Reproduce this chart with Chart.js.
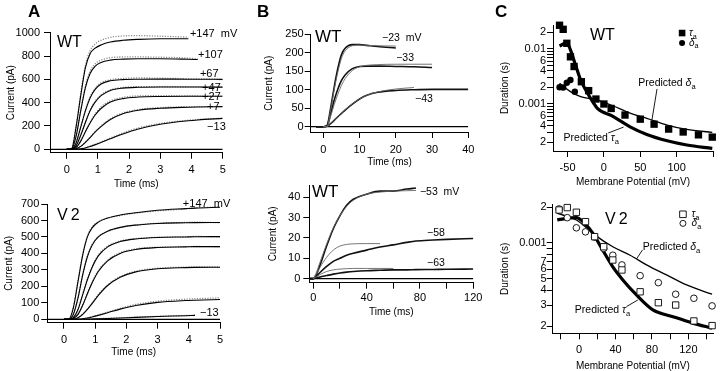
<!DOCTYPE html>
<html>
<head>
<meta charset="utf-8">
<script src="https://cdn.jsdelivr.net/npm/chart.js@4.4.1/dist/chart.umd.min.js"></script>
<style>
  html, body { margin: 0; padding: 0; background: #fff; }
  #wrap { position: relative; width: 720px; height: 371px; overflow: hidden; }
  #wrap canvas { position: absolute; left: 0; top: 0; }
</style>
</head>
<body>
<div id="wrap">
  <canvas id="aTop" width="720" height="371"></canvas>
  <canvas id="aBot" width="720" height="371"></canvas>
  <canvas id="bTop" width="720" height="371"></canvas>
  <canvas id="bBot" width="720" height="371"></canvas>
  <canvas id="cTop" width="720" height="371"></canvas>
  <canvas id="cBot" width="720" height="371"></canvas>
</div>
<script>
const FONT = "'Liberation Sans', Arial, Helvetica, sans-serif";
Chart.defaults.font.family = FONT;
Chart.defaults.color = '#000';
Chart.defaults.animation = false;
Chart.defaults.responsive = false;
Chart.defaults.events = [];

// ---- panel A : currents (pA) vs time (ms) ----
const tA = [-0.53, 0, 0.15, 0.3, 0.45, 0.6, 0.75, 0.9, 1.1, 1.4, 1.8, 2.3, 3, 3.9, 4.2, 5];
const zeroA = [-0.53, 5];

const wtFit147 = [null, 0, 0, 190, 460, 700, 820, 865, 895, 920, 935, 943, 948, 948, null, null];
const wtRaw147 = [null, 0, 5, 200, 480, 720, 845, 900, 935, 960, 972, 975, 970, 962, null, null];
const wtFit107 = [null, 0, 0, 110, 330, 530, 650, 710, 745, 765, 773, 776, 776, 772, 770, null];
const wtRaw107 = [null, 0, 3, 115, 340, 545, 670, 730, 765, 785, 792, 792, 790, 782, 775, null];
const wtFit67  = [null, 0, 0, 55, 190, 330, 440, 510, 560, 588, 598, 601, 602, 601, 601, 600];
const wtRaw67  = [null, 0, 2, 58, 195, 338, 450, 520, 570, 597, 607, 612, 610, 605, 603, 598];
const wtFit47  = [null, 0, 0, 30, 120, 230, 330, 400, 460, 505, 525, 532, 534, 534, 534, 533];
const wtRaw47  = [null, 0, 1, 32, 125, 238, 338, 408, 466, 510, 530, 538, 538, 536, 535, 532];
const wtFit27  = [null, 0, 0, 15, 70, 150, 225, 290, 350, 405, 435, 448, 453, 455, 455, 455];
const wtRaw27  = [null, 0, 0, 16, 72, 155, 232, 300, 362, 415, 445, 458, 460, 458, 457, 455];
const wtFit7   = [null, 0, 0, 5, 25, 60, 100, 145, 195, 255, 305, 335, 352, 361, 363, 366];
const wtRaw7   = [null, 0, 0, 6, 27, 63, 104, 150, 202, 262, 312, 342, 358, 365, 366, 367];
const wtFitM13 = [null, 0, 0, 0, 4, 12, 24, 38, 58, 90, 132, 175, 215, 245, 252, 265];
const wtRawM13 = [null, 0, 0, 1, 5, 14, 27, 42, 63, 97, 140, 184, 222, 250, 256, 266];

const v2Fit147 = [null, 0, 0, 70, 230, 390, 500, 555, 590, 615, 633, 647, 662, 672, 675, 680];
const v2Raw147 = [null, 0, 2, 75, 238, 398, 505, 560, 592, 614, 630, 645, 658, 670, 676, 682];
const v2Fit107 = [null, 0, 0, 30, 130, 270, 380, 450, 500, 535, 558, 572, 582, 586, 587, 588];
const v2Raw107 = [null, 0, 1, 33, 135, 275, 386, 455, 503, 534, 556, 572, 583, 588, 590, 586];
const v2Fit67  = [null, 0, 0, 10, 60, 150, 240, 315, 385, 440, 472, 488, 497, 500, 501, 502];
const v2Raw67  = [null, 0, 0, 11, 63, 155, 246, 320, 390, 444, 475, 490, 498, 500, 503, 500];
const v2Fit47  = [null, 0, 0, 5, 30, 85, 155, 220, 290, 355, 400, 424, 436, 440, 441, 441];
const v2Raw47  = [null, 0, 0, 6, 32, 90, 160, 226, 296, 360, 404, 428, 438, 441, 442, 440];
const v2Fit27  = [null, 0, 0, 0, 10, 30, 60, 95, 145, 205, 255, 288, 307, 314, 315, 316];
const v2Raw27  = [null, 0, 0, 1, 11, 32, 63, 100, 150, 210, 260, 292, 310, 317, 318, 318];
const v2Fit7   = [null, 0, 0, 0, 0, 3, 8, 14, 24, 40, 62, 84, 103, 114, 116, 120];
const v2Raw7   = [null, 0, 0, 0, 1, 4, 9, 16, 27, 44, 67, 90, 110, 122, 125, 130];
const v2FitM13 = [null, 0, 0, 0, 0, 0, 1, 2, 3, 5, 8, 12, 17, 22, 24, null];
const v2RawM13 = [null, 0, 0, 0, 0, 0, 1, 2, 4, 6, 9, 13, 18, 23, 25, null];

// ---- panel B : slow currents ----
const tB = [-2, 0, 1, 2, 3, 4, 5, 6, 8, 10, 12, 15, 20, 25, 30, 40];
const zeroB = [-3.5, 40];
const bFit23 = [null, 0, 0, 45, 100, 148, 185, 205, 219, 221, 220, 219, 218, null, null, null];
const bRaw23 = [0, 0, 3, 50, 108, 158, 195, 212, 222, 222, 220, 217, 213, null, null, null];
const bFit33 = [null, 0, 0, 28, 60, 88, 112, 130, 152, 162, 166, 168, 169, 169, 169, null];
const bRaw33 = [0, 0, 2, 35, 72, 102, 125, 140, 157, 163, 164, 164, 163, 162, 160, null];
const bFit43 = [null, 0, 0, 8, 17, 27, 37, 46, 62, 75, 85, 94, 102, 106, null, null];
const bRaw43 = [0, 0, 1, 8, 17, 27, 36, 45, 61, 75, 85, 93, 98, 100, 101, 101];

const tBB = [-3, 0, 2, 5, 10, 15, 20, 25, 30, 40, 50, 60, 70, 77, 90, 100, 120];
const zeroBB = [-3, 120];
const bbFit53 = [null, 0, 2.5, 8, 17, 25, 31, 35.5, 38.5, 41.5, 42.5, 43, 43.2, 43.3, null, null, null];
const bbRaw53 = [0, 0, 1.5, 6.5, 16, 24.5, 31, 36, 39, 41.5, 43, 43, 44, 44.5, null, null, null];
const bbFit58 = [null, 0, 2, 5.5, 10.5, 14, 16, 16.8, 17.1, 17.2, 17.2, null, null, null, null, null, null];
const bbRaw58 = [0, 0, 1, 3, 6, 8.5, 10, 11.5, 12.5, 14, 15.5, 16.6, 17.8, 18.5, 19, 19.3, 19.7];
const bbFit63 = [null, 0, 0.8, 2, 3.5, 4.3, 4.7, 4.9, 5, 5, 5, 5, null, null, null, null, null];
const bbRaw63 = [0, 0, 0.3, 0.8, 1.5, 2.2, 2.8, 3.2, 3.5, 3.9, 4.1, 4.3, 4.3, 4.4, 4.5, 4.6, 4.7];

// ---- panel C : durations (s) vs membrane potential (mV) ----
const wtTauV = [-61, -56, -51, -46, -41, -31, -21, -11, 0, 10, 29, 50, 69, 89, 109, 130, 149];
const wtTau = [0.027, 0.0228, 0.0127, 0.0072, 0.0048, 0.00254, 0.00175, 0.00123, 0.001, 0.00083,
               0.00063, 0.00053, 0.00043, 0.00035, 0.00031, 0.000275, 0.00025];
const wtDelV = [-61, -56, -51, -46, -40];
const wtDel = [0.00201, 0.002, 0.00244, 0.00273, 0.00167];
const wtPredTauV = [-61, -51, -46, -39, -32, -25, -14, -9, 13, 36, 59, 87, 114, 149];
const wtPredTau = [0.0113, 0.013, 0.0096, 0.0051, 0.00273, 0.0018, 0.00103, 0.00083, 0.00059,
                   0.000385, 0.00028, 0.000215, 0.00018, 0.000156];
const wtPredDelV = [-61, -46, -32, -9, 13, 36, 59, 87, 114, 149];
const wtPredDel = [0.00237, 0.00168, 0.00136, 0.00118, 0.00092, 0.00068, 0.00055, 0.000415, 0.000345, 0.000305];

const v2V = [-22, -13, -3, 7, 17, 27, 37, 47, 67, 87, 106, 126, 146];
const v2Tau = [0.00189, 0.00198, 0.00181, 0.00151, 0.00113, 0.00093, 0.00072, 0.000594, 0.00039,
               0.000316, 0.000302, 0.000222, 0.000203];
const v2Del = [0.00193, 0.00163, 0.00134, 0.00124, 0.00112, 0.0009, 0.00079, 0.000655, 0.000532,
               0.000465, 0.000372, 0.000344, 0.000297];
const v2PredTauV = [-24, -14, -3, 6, 15, 26, 37, 48, 63, 81, 103, 125, 146];
const v2PredTau = [0.00156, 0.00161, 0.00163, 0.00146, 0.00121, 0.00087, 0.00063, 0.00049, 0.000367,
                   0.000275, 0.000241, 0.000213, 0.000193];
const v2PredDelV = [-24, -3, 17, 37, 56, 74, 96, 118, 146];
const v2PredDel = [0.00177, 0.00156, 0.00117, 0.00093, 0.00079, 0.000655, 0.00054, 0.000445, 0.000372];

// ---- tick values / labels ----
const aTimeTicks = [0, 1, 2, 3, 4, 5];
const aTopYTicks = [0, 200, 400, 600, 800, 1000];
const aBotYTicks = [0, 100, 200, 300, 400, 500, 600, 700];
const bTopXTicks = [0, 10, 20, 30, 40];
const bTopYTicks = [0, 50, 100, 150, 200, 250];
const bBotXTicks = [0, 20, 40, 60, 80, 100, 120];
const bBotXLabels = ['0', '', '40', '', '80', '', '120'];
const bBotYTicks = [0, 10, 20, 30, 40];
const cTopXTicks = [-50, 0, 50, 100, 150];
const cTopXLabels = ['-50', '0', '50', '100', ''];
const cTopYTicks = [0.0002, 0.0003, 0.0004, 0.0005, 0.0006, 0.0007, 0.0008, 0.0009, 0.001,
                    0.002, 0.003, 0.004, 0.005, 0.006, 0.007, 0.008, 0.009, 0.01, 0.02];
const cTopYLabels = ['2', '', '4', '', '6', '', '', '', '0.001',
                     '2', '', '4', '', '6', '', '', '', '0.01', '2'];
const cBotXTicks = [-20, 0, 20, 40, 60, 80, 100, 120, 140];
const cBotXLabels = ['', '0', '', '40', '', '80', '', '120', ''];
const cBotYTicks = [0.0002, 0.0003, 0.0004, 0.0005, 0.0006, 0.0007, 0.0008, 0.0009, 0.001, 0.002];
const cBotYLabels = ['2', '3', '4', '5', '6', '7', '', '', '0.001', '2'];

// ---------- helpers ----------
function pts(xs, ys) {
  return xs.map((x, i) => ({x: x, y: ys[i]})).filter(p => p.y !== null);
}

function line(xs, ys, kind) {
  const ds = {data: pts(xs, ys), pointRadius: 0, fill: false, cubicInterpolationMode: 'monotone',
              borderColor: '#000', borderWidth: 1.1};
  if (kind === 'dots') { ds.borderColor = '#8c8c8c'; ds.borderWidth = 1.3; ds.borderDash = [1.2, 1.4]; }
  if (kind === 'noisy') { ds.borderColor = '#111'; ds.borderWidth = 1.6; }
  if (kind === 'thin') { ds.borderColor = '#666'; ds.borderWidth = 0.9; }
  if (kind === 'zero') { ds.cubicInterpolationMode = 'default'; ds.borderWidth = 1.2; }
  if (kind === 'thick') { ds.borderWidth = 3.2; }
  if (kind === 'pred') { ds.borderWidth = 1.3; }
  return ds;
}

function marks(xs, ys, style, open, r) {
  return {data: pts(xs, ys), showLine: false, clip: false, pointStyle: style, pointRadius: r,
          pointBackgroundColor: open ? '#fff' : '#000', pointBorderColor: '#000',
          pointBorderWidth: open ? 0.9 : 0};
}

function axis(o) {
  return {
    type: o.type || 'linear', position: o.pos, min: o.min, max: o.max, bounds: 'data',
    afterBuildTicks: s => { s.ticks = o.ticks.map(v => ({value: v})); },
    afterFit: s => {
      if (s.isHorizontal()) s.height = o.size; else s.width = o.size;
      s.paddingLeft = s.paddingRight = s.paddingTop = s.paddingBottom = 0;
    },
    ticks: {autoSkip: false, maxRotation: 0, minRotation: 0, padding: o.pad, font: {size: 11},
            callback: (v, i) => o.labels ? o.labels[i] : String(v)},
    grid: {drawOnChartArea: false, drawTicks: true, tickLength: 6, color: '#000', lineWidth: 1},
    border: {display: true, color: '#000', width: 1},
    title: {display: true, text: o.title, font: {size: 10, lineHeight: 1}, padding: 0}
  };
}

// text with italic (i) and subscript (s) pieces
function rich(ctx, x, y, parts, size) {
  ctx.textAlign = 'left';
  ctx.textBaseline = 'middle';
  parts.forEach(p => {
    const s = p[1] === 's' ? size * 0.72 : size;
    ctx.font = (p[1] === 'i' ? 'italic ' : '') + s + 'px ' + FONT;
    ctx.fillText(p[0], x, y + (p[1] === 's' ? size * 0.35 : 0));
    x += ctx.measureText(p[0]).width;
  });
}

function notes(n) {
  return {
    id: 'notes',
    afterDatasetsDraw(chart) {
      const ctx = chart.ctx;
      const px = v => chart.scales.x.getPixelForValue(v);
      const py = v => chart.scales.y.getPixelForValue(v);
      ctx.save();
      ctx.fillStyle = '#000';
      ctx.strokeStyle = '#000';
      (n.pointers || []).forEach(p => {
        ctx.lineWidth = 0.9;
        ctx.beginPath();
        ctx.moveTo(px(p[0]), py(p[1]));
        ctx.lineTo(px(p[2]), py(p[3]));
        ctx.stroke();
      });
      (n.labels || []).forEach(l => rich(ctx, px(l.x), py(l.y), l.text, l.size || 11));
      (n.keys || []).forEach(k => {
        const x = px(k.x), y = py(k.y);
        ctx.lineWidth = 0.9;
        ctx.beginPath();
        if (k.shape === 'rect') ctx.rect(x - 3.3, y - 3.3, 6.6, 6.6);
        else ctx.arc(x, y, 3, 0, Math.PI * 2);
        if (k.open) ctx.stroke(); else ctx.fill();
        rich(ctx, px(k.tx), y, k.text, 10);
      });
      (n.page || []).forEach(p => {
        ctx.font = p.font + ' ' + FONT;
        ctx.textAlign = 'left';
        ctx.textBaseline = 'alphabetic';
        ctx.letterSpacing = p.spacing || '0px';
        ctx.fillText(p.text, p.x, p.y);
        ctx.letterSpacing = '0px';
      });
      ctx.restore();
    }
  };
}

function panel(id, pad, x, y, datasets, n) {
  return new Chart(document.getElementById(id), {
    type: 'line',
    data: {datasets: datasets},
    options: {
      layout: {padding: pad},
      scales: {x: x, y: y},
      plugins: {legend: {display: false}, tooltip: {enabled: false}}
    },
    plugins: [notes(n)]
  });
}

const tau = [['τ', 'i'], ['a', 's']];
const del = [['δ', 'i'], ['a', 's']];

// ---------- A, WT ----------
panel('aTop', {left: 6.3, right: 497.3, top: 32.7, bottom: 182},
  axis({pos: 'bottom', min: -0.535, max: 5, ticks: aTimeTicks, pad: 4.7, size: 36.3, title: 'Time (ms)'}),
  axis({pos: 'left', min: -29, max: 1000, ticks: aTopYTicks, pad: 4, size: 43.7, title: 'Current (pA)'}),
  [
    line(tA, wtFit147), line(tA, wtFit107), line(tA, wtFit67), line(tA, wtFit47),
    line(tA, wtFit27), line(tA, wtFit7), line(tA, wtFitM13),
    line(tA, wtRaw147, 'dots'), line(tA, wtRaw107, 'dots'), line(tA, wtRaw67, 'dots'), line(tA, wtRaw47, 'dots'),
    line(tA, wtRaw27, 'dots'), line(tA, wtRaw7, 'dots'), line(tA, wtRawM13, 'dots'),
    line(zeroA, [0, 0], 'zero')
  ],
  {
    labels: [
      {x: 3.95, y: 985, text: [['+147  mV']]}, {x: 4.21, y: 809, text: [['+107']]},
      {x: 4.27, y: 646, text: [['+67']]}, {x: 4.34, y: 526, text: [['+47']]},
      {x: 4.34, y: 449, text: [['+27']]}, {x: 4.5, y: 363, text: [['+7']]},
      {x: 4.5, y: 191, text: [['−13']]}
    ],
    page: [{text: 'A', x: 28, y: 17, font: 'bold 17px'}, {text: 'WT', x: 57, y: 47, font: '16px'}]
  });

// ---------- A, V2 ----------
panel('aBot', {left: 4.2, right: 500, top: 204, bottom: 13.7},
  axis({pos: 'bottom', min: -0.535, max: 5, ticks: aTimeTicks, pad: 4.7, size: 34.6, title: 'Time (ms)'}),
  axis({pos: 'left', min: -20.6, max: 700, ticks: aBotYTicks, pad: 2, size: 43.1, title: 'Current (pA)'}),
  [
    line(tA, v2Fit147), line(tA, v2Fit107), line(tA, v2Fit67), line(tA, v2Fit47),
    line(tA, v2Fit27), line(tA, v2Fit7), line(tA, v2FitM13),
    line(tA, v2Raw147, 'dots'), line(tA, v2Raw107, 'dots'), line(tA, v2Raw67, 'dots'), line(tA, v2Raw47, 'dots'),
    line(tA, v2Raw27, 'dots'), line(tA, v2Raw7, 'dots'), line(tA, v2RawM13, 'dots'),
    line(zeroA, [0, 0], 'zero')
  ],
  {
    labels: [{x: 3.81, y: 700, text: [['+147  mV']]}, {x: 4.36, y: 38, text: [['−13']]}],
    page: [{text: 'V2', x: 57, y: 220, font: '16px', spacing: '3px'}]
  });

// ---------- B, WT fast ----------
panel('bTop', {left: 264.7, right: 251.7, top: 34.3, bottom: 203.5},
  axis({pos: 'bottom', min: -3.5, max: 40, ticks: bTopXTicks, pad: 5.1, size: 35.5, title: 'Time (ms)'}),
  axis({pos: 'left', min: -14.4, max: 250, ticks: bTopYTicks, pad: 1, size: 46, title: 'Current (pA)'}),
  [
    line(tB, bFit23, 'thin'), line(tB, bFit33, 'thin'), line(tB, bFit43, 'thin'),
    line(tB, bRaw23, 'noisy'), line(tB, bRaw33, 'noisy'), line(tB, bRaw43, 'noisy'),
    line(zeroB, [0, 0], 'zero')
  ],
  {
    labels: [{x: 16.2, y: 240, text: [['−23  mV']], size: 10.5}, {x: 20.1, y: 186, text: [['−33']], size: 10.5},
             {x: 25.3, y: 75, text: [['−43']], size: 10.5}],
    page: [{text: 'B', x: 257, y: 17, font: 'bold 17px'}, {text: 'WT', x: 315, y: 42, font: '17px'}]
  });

// ---------- B, WT slow ----------
panel('bBot', {left: 268.3, right: 246.7, top: 185, bottom: 53.8},
  axis({pos: 'bottom', min: -3, max: 120, ticks: bBotXTicks, labels: bBotXLabels, pad: 3, size: 34.5, title: 'Time (ms)'}),
  axis({pos: 'left', min: -2, max: 46, ticks: bBotYTicks, pad: 3, size: 41, title: 'Current (pA)'}),
  [
    line(tBB, bbFit53, 'thin'), line(tBB, bbFit58, 'thin'), line(tBB, bbFit63, 'thin'),
    line(tBB, bbRaw53, 'noisy'), line(tBB, bbRaw58, 'noisy'), line(tBB, bbRaw63, 'noisy'),
    line(zeroBB, [0, 0], 'zero')
  ],
  {
    labels: [{x: 80, y: 42.6, text: [['−53  mV']], size: 10.5}, {x: 85.3, y: 22.5, text: [['−58']], size: 10.5},
             {x: 85.3, y: 7.7, text: [['−63']], size: 10.5}],
    page: [{text: 'WT', x: 312, y: 197, font: '17px'}]
  });

// ---------- C, WT ----------
panel('cTop', {left: 500, right: 7, top: 25, bottom: 183.5},
  axis({pos: 'bottom', min: -70, max: 150, ticks: cTopXTicks, labels: cTopXLabels, pad: 4.7, size: 36.5,
        title: 'Membrane Potential (mV)'}),
  axis({type: 'logarithmic', pos: 'left', min: 0.0001398, max: 0.0273, ticks: cTopYTicks, labels: cTopYLabels,
        pad: 1, size: 53, title: 'Duration (s)'}),
  [
    marks(wtTauV, wtTau, 'rect', false, 5.2), marks(wtDelV, wtDel, 'circle', false, 3.2),
    line(wtPredTauV, wtPredTau, 'thick'), line(wtPredDelV, wtPredDel, 'pred')
  ],
  {
    pointers: [[73, 0.00187, 66, 0.00051], [6, 0.000297, 27, 0.00038]],
    labels: [{x: 47.3, y: 0.00241, text: [['Predicted ']].concat(del), size: 10.5},
             {x: -55.5, y: 0.000241, text: [['Predicted ']].concat(tau), size: 10.5}],
    keys: [{shape: 'rect', x: 107.5, y: 0.0195, tx: 117, text: tau},
           {shape: 'circle', x: 107.5, y: 0.01286, tx: 117, text: del}],
    page: [{text: 'C', x: 495, y: 17, font: 'bold 17px'}, {text: 'WT', x: 590, y: 40, font: '16px'}]
  });

// ---------- C, V2 ----------
panel('cBot', {left: 500.3, right: 7, top: 204.3, bottom: 0.2},
  axis({pos: 'bottom', min: -29, max: 147, ticks: cBotXTicks, labels: cBotXLabels, pad: 3.6, size: 37.5,
        title: 'Membrane Potential (mV)'}),
  axis({type: 'logarithmic', pos: 'left', min: 0.000175, max: 0.00211, ticks: cBotYTicks, labels: cBotYLabels,
        pad: 0, size: 52.4, title: 'Duration (s)'}),
  [
    marks(v2V, v2Tau, 'rect', true, 4.5), marks(v2V, v2Del, 'circle', true, 3.3),
    line(v2PredTauV, v2PredTau, 'thick'), line(v2PredDelV, v2PredDel, 'pred')
  ],
  {
    pointers: [[52, 0.000293, 64.5, 0.000333], [69.6, 0.000875, 63, 0.000735]],
    labels: [{x: 70, y: 0.000926, text: [['Predicted ']].concat(del), size: 10.5},
             {x: -4.7, y: 0.000275, text: [['Predicted ']].concat(tau), size: 10.5}],
    keys: [{shape: 'rect', x: 114, y: 0.00174, tx: 123.5, text: tau, open: true},
           {shape: 'circle', x: 114, y: 0.00146, tx: 123.5, text: del, open: true}],
    page: [{text: 'V2', x: 605, y: 224, font: '16px', spacing: '3px'}]
  });
</script>
</body>
</html>
